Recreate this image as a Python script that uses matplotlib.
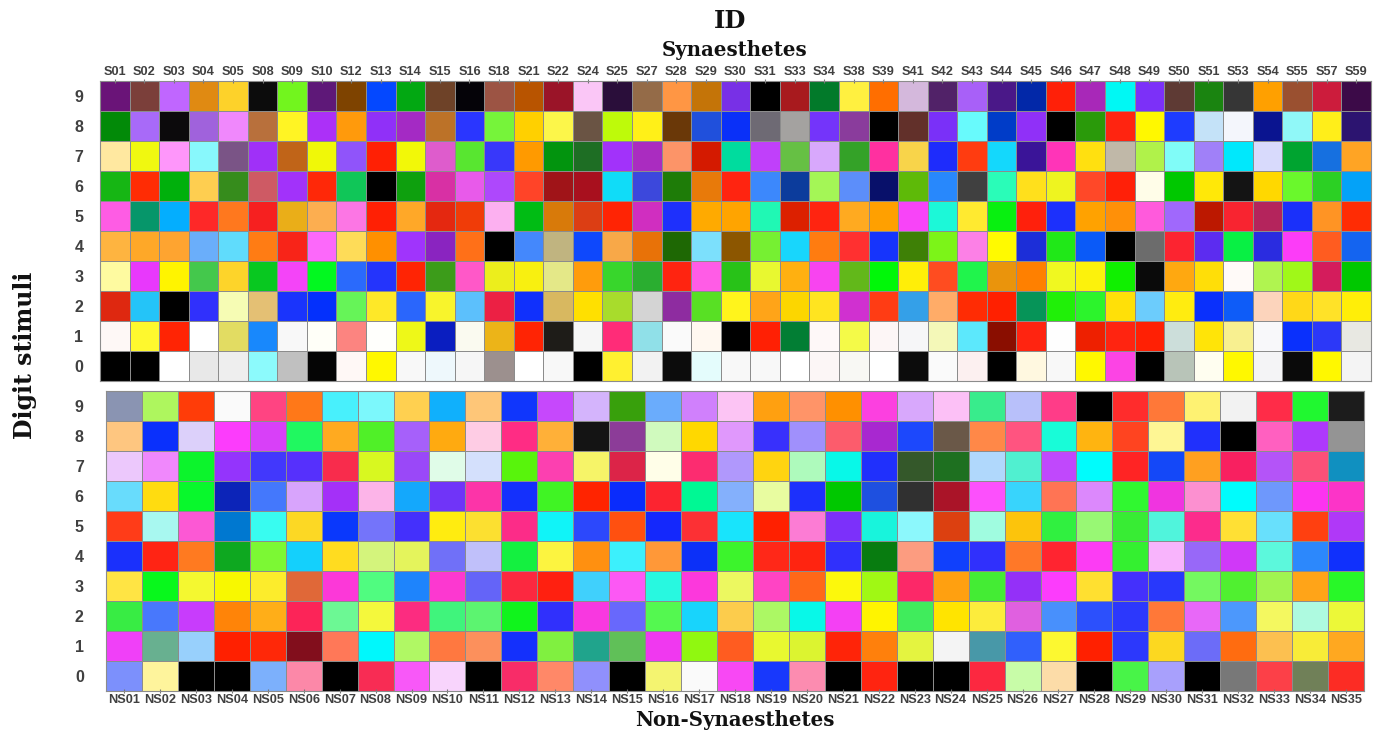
#!/usr/bin/env python3
"""Grapheme-colour associations for digits 0-9: synaesthetes vs non-synaesthetes."""

import matplotlib
matplotlib.use("Agg")
import matplotlib.pyplot as plt
import numpy as np
from matplotlib.colors import ListedColormap

digits = ["9", "8", "7", "6", "5", "4", "3", "2", "1", "0"]

syn_ids = ["S01", "S02", "S03", "S04", "S05", "S08", "S09", "S10", "S12", "S13",
           "S14", "S15", "S16", "S18", "S21", "S22", "S24", "S25", "S27", "S28",
           "S29", "S30", "S31", "S33", "S34", "S38", "S39", "S41", "S42", "S43",
           "S44", "S45", "S46", "S47", "S48", "S49", "S50", "S51", "S53", "S54",
           "S55", "S57", "S59"]

nonsyn_ids = [f"NS{i:02d}" for i in range(1, 36)]

# colour chosen by each synaesthete, one list per digit
syn_9 = ["#6A1478", "#7B3F3A", "#C066FF", "#E08A12", "#FDD22A", "#0C0C0C", "#72F51E", "#5E1878", "#7E4300", "#0448FF",
         "#02A812", "#6E4228", "#050308", "#9C5444", "#B85400", "#9A1428", "#FAC6F6", "#2A0E3A", "#946B48", "#FF9644",
         "#C47408", "#7830E6", "#000000", "#A81A1E", "#027A2A", "#FFF040", "#FF6E00", "#D4B8DC", "#512268", "#A860F8",
         "#4A1888", "#0228A8", "#FF2008", "#A828B8", "#00F8F4", "#7C30F8", "#5E3A34", "#1A8410", "#363636", "#FFA000",
         "#9A5030", "#CC1C3C", "#3C0A48"]
syn_8 = ["#028A08", "#A86AF8", "#0C0A0C", "#A062DC", "#F088FC", "#B8703C", "#FFF424", "#AC30F8", "#FF9A0C", "#9030F8",
         "#A42AC4", "#BC7228", "#2A36FF", "#76F43A", "#FFD000", "#FCF64A", "#6A5444", "#BEFA0A", "#FFF018", "#6A3808",
         "#2050DC", "#0A30F8", "#6E6A74", "#A4A2A0", "#7434FA", "#8A3C9C", "#000000", "#62302A", "#7A30F8", "#68FAFC",
         "#003CC8", "#9030F8", "#000000", "#2A9A0A", "#FF2410", "#FFF800", "#1E3CFF", "#C4E2F8", "#F4F6FC", "#0A1490",
         "#90F8F8", "#FFEE1A", "#2C1470"]
syn_7 = ["#FFE8A0", "#F0F810", "#FE96FA", "#88F8FC", "#7A5486", "#A030F8", "#C06418", "#F0F808", "#9054FA", "#FF2004",
         "#F2F808", "#DE5CCC", "#58E630", "#3838FA", "#FF9A00", "#02940E", "#1E6E24", "#A232FA", "#AA2CC0", "#FC9468",
         "#D41A00", "#00DC9E", "#C040FA", "#66C044", "#D8A8FC", "#34A228", "#FF30A0", "#F8D44A", "#1E2CFC", "#FF3C10",
         "#14D8FC", "#3A1498", "#FF34B8", "#FFE010", "#C0B8A8", "#B0F24A", "#80FCF8", "#A080F8", "#00E8FC", "#D8DAFC",
         "#00A430", "#1670E0", "#FFA424"]
syn_6 = ["#16B614", "#FF2C04", "#00B00C", "#FECE50", "#368C1C", "#CE5A64", "#A232FA", "#FF2808", "#10C658", "#000000",
         "#0EA00E", "#D830A4", "#E85AEA", "#AE48FC", "#FF4428", "#A01418", "#A8101E", "#10DCF8", "#3C48DC", "#1E7C08",
         "#E87A0A", "#FF2410", "#3C88FC", "#0C3C9C", "#A4F656", "#5C8EFA", "#08106A", "#5EBA08", "#2888FC", "#404040",
         "#2AFCB8", "#FFE01C", "#EEF420", "#FF4828", "#FF2008", "#FFFDE8", "#00C800", "#FFE808", "#141414", "#FFD800",
         "#6AF82C", "#2CD024", "#04A2F8"]
syn_5 = ["#FE5CE4", "#06966A", "#04AEFE", "#FE2828", "#FF781E", "#F62020", "#EAAE18", "#FCAE50", "#FC76E4", "#FF2004",
         "#FFA828", "#E42810", "#F03C08", "#FCB0F0", "#00BC14", "#D87A0A", "#DC3E14", "#FF2404", "#D02EC0", "#1E30FC",
         "#FFAA00", "#FFA400", "#20F8B4", "#DC2000", "#FF2410", "#FFAA20", "#FFA000", "#F844F8", "#1CF8D8", "#FFEA30",
         "#08F010", "#FF200C", "#1C30FC", "#FFA200", "#FF9008", "#FF5ADC", "#A068FC", "#BC1800", "#F82430", "#B4245C",
         "#1A30FA", "#FF9424", "#FF2C04"]
syn_4 = ["#FEB440", "#FEA828", "#FEA430", "#6AAEFA", "#60DCFC", "#FF7C14", "#F82418", "#FC68FA", "#FEDC58", "#FF9000",
         "#A034FC", "#8A24C0", "#FF7018", "#000000", "#4488FC", "#C0B480", "#0E48FC", "#F8A848", "#E87208", "#1E6804",
         "#7CE0FC", "#8C5600", "#76F032", "#18D6FC", "#FF7C10", "#FF3030", "#1634FC", "#3E8006", "#7CF418", "#FC80E6",
         "#FFFA00", "#1C2ED8", "#20E818", "#0A5AF8", "#000000", "#6C6C6C", "#FC2430", "#5C2CF0", "#08F044", "#2A2CE0",
         "#FC3CF8", "#FF5C20", "#1464F0"]
syn_3 = ["#FEFAA0", "#E838FC", "#FFF400", "#44C84C", "#FDD42A", "#08C820", "#F444F8", "#02F820", "#2A6AFC", "#2434FC",
         "#FF2404", "#3C9C1A", "#FF58C8", "#ECEE1C", "#F8F010", "#E4E888", "#FF9C0C", "#38D62C", "#2AAE30", "#FF2410",
         "#FF5CE6", "#28C218", "#E8F830", "#FFB010", "#F844F0", "#62B81A", "#00F808", "#FFEE08", "#FF4C20", "#20F44C",
         "#EA940C", "#FF8000", "#F0F820", "#FCF20C", "#10F000", "#0A0A0A", "#FFA810", "#FFDE08", "#FFFAF8", "#B0F450",
         "#A0F818", "#D41C5C", "#00C800"]
syn_2 = ["#DE2810", "#24C4F8", "#000000", "#3030FC", "#F6FCB4", "#E4C074", "#1A34FC", "#0430FC", "#66F458", "#FEE828",
         "#2A66FC", "#F8F42C", "#5CC0FC", "#EC2044", "#1030FC", "#D8B860", "#FFE000", "#A8DC2C", "#D4D4D4", "#8E2CA0",
         "#58E024", "#FFF41C", "#FFA418", "#FCD600", "#FFE420", "#D030D0", "#FF3C14", "#34A0E8", "#FFAC68", "#FF2C04",
         "#FF2000", "#069458", "#20F008", "#2CF42C", "#FFE008", "#6CCCFC", "#FFEC10", "#0A30FC", "#0E5CF8", "#FCD4BC",
         "#FFD818", "#FFE228", "#FFEE08"]
syn_1 = ["#FEF8F6", "#FEF82E", "#FF2404", "#FFFFFF", "#E2DC62", "#1888FC", "#F8F8F8", "#FFFFF8", "#FC8480", "#FFFFFC",
         "#EEF818", "#0A1EC0", "#FAFAF0", "#ECB418", "#FF2404", "#1E1C18", "#F6F6F6", "#FF2C78", "#90E0E8", "#FAFAFA",
         "#FFF8F0", "#000000", "#FF2004", "#027E34", "#FEF8F8", "#F4FA48", "#FDF6F6", "#F6F6F8", "#F4F8B8", "#5CE8FC",
         "#8A0E00", "#FF2410", "#FEFEFE", "#EE2000", "#FF2410", "#FF2004", "#CCDEDA", "#FFE408", "#F8F090", "#F8F8FA",
         "#0A30FC", "#2C38F8", "#E8E8E2"]
syn_0 = ["#000000", "#000000", "#FFFFFF", "#E8E8E8", "#EEEEEE", "#8CFAFC", "#C0C0C0", "#050505", "#FFF8F6", "#FFF800",
         "#F8F8F8", "#EEF8FC", "#F6F6F6", "#9C908E", "#FFFFFF", "#F8F8F8", "#000000", "#FFF030", "#F2F2F2", "#0C0C0C",
         "#E4FCFC", "#F8F8F8", "#F8F8F8", "#FFFFFF", "#FCF6F6", "#F8F8F4", "#FFFFFF", "#0C0C0C", "#FAFAFA", "#FCF0F0",
         "#000000", "#FFF8E0", "#F8F8F8", "#FFF800", "#FC44E4", "#000000", "#B8C4B8", "#FFFEF0", "#FFF800", "#F4F4F6",
         "#0A0A0A", "#FFF800", "#F4F4F4"]

# colour chosen by each non-synaesthete, one list per digit
ns_9 = ["#8A94B2", "#AEF65E", "#FF3C08", "#FAFAFA", "#FF4482", "#FF7818", "#48F0FC", "#7CF8FC", "#FFD050", "#10B0FC",
        "#FEC678", "#1036FC", "#C648FC", "#D4B4FC", "#38A00C", "#6AACFC", "#D080FC", "#FCC4F4", "#FFA010", "#FF9468",
        "#FF9000", "#FC40E0", "#D8A8FC", "#FCC0F6", "#38EC8C", "#B8C0FA", "#FF3C88", "#000000", "#FF2C2C", "#FF7838",
        "#FEF272", "#F2F2F2", "#FF2C48", "#20F830", "#1C1C1C"]
ns_8 = ["#FEC680", "#0A30FC", "#DCD0FA", "#FC3CFC", "#D840F8", "#20F860", "#FFAA20", "#50F028", "#A660FA", "#FFAA10",
        "#FECCE4", "#FF2C84", "#FFB038", "#141414", "#8C3C98", "#D0FABE", "#FFD800", "#E098FC", "#3830FC", "#A090FC",
        "#FC5C6C", "#A828D0", "#1C48FC", "#6A5848", "#FF8848", "#FF5480", "#18FCD8", "#FFB410", "#FF4420", "#FEF694",
        "#2030FC", "#000000", "#FF60C0", "#AE38FC", "#949494"]
ns_7 = ["#ECC8FC", "#F088FC", "#0CF42C", "#9434FC", "#4238FC", "#5630FC", "#F82C4C", "#D8F820", "#9A48F8", "#E0FCE8",
        "#D4E0FC", "#58F40C", "#FC40B0", "#F6F468", "#DC2448", "#FFFEE8", "#FC2C70", "#B098FC", "#FFD410", "#AEFABC",
        "#08F8E8", "#2030FC", "#34582A", "#1E7020", "#B0D8FC", "#50F0D0", "#C048FC", "#00FCFC", "#FF2424", "#1448F8",
        "#FFA020", "#F82060", "#B454F8", "#FC5078", "#1090C0"]
ns_6 = ["#68DCFC", "#FFDC10", "#08F82C", "#0C24B8", "#4478FC", "#D8A4FC", "#A430F8", "#FCB4E8", "#14A8FC", "#7034F8",
        "#FC34A8", "#1430FC", "#40F424", "#FF2400", "#0A2CFC", "#FC2430", "#00F894", "#84B0FC", "#E8FCA0", "#1C30FC",
        "#00C800", "#1E50E0", "#303030", "#AA1428", "#FC50FC", "#38D4FC", "#FF7454", "#DC88FC", "#30F830", "#F034E0",
        "#FC90D0", "#00FCFC", "#6E98FC", "#FC34F0", "#FC34C8"]
ns_5 = ["#FF3C18", "#A8F8F0", "#FC58D4", "#0078D0", "#38FCF0", "#FCD824", "#0A38FC", "#7474FA", "#4430FC", "#FFEC10",
        "#FCE030", "#FC2C88", "#10F4F8", "#2C48FC", "#FF5010", "#1428FC", "#FC3034", "#18E4FC", "#FF2000", "#FC7CD4",
        "#7C30FA", "#18F4DC", "#8CF8FC", "#DC4010", "#A0FCE0", "#FCC40C", "#30F040", "#98F874", "#38EC34", "#50F4DC",
        "#FC2C8C", "#FFE034", "#68E0FC", "#FF4010", "#B038F8"]
ns_4 = ["#1A30FC", "#FF2414", "#FF7A20", "#0EA820", "#7CF834", "#14D0FC", "#FFDC20", "#D4F47C", "#E4F45C", "#7070F8",
        "#C0C0FA", "#14F040", "#FCF440", "#FF9010", "#3CF0FC", "#FF9838", "#0C30F8", "#3CF42C", "#FF2818", "#FF2410",
        "#3030FC", "#087C10", "#FC9C80", "#1040FC", "#3030FC", "#FF7828", "#FF2430", "#FC3CF4", "#34F030", "#F8B4FC",
        "#9868F8", "#D038F8", "#5CF8DC", "#2C88FC", "#1030FC"]
ns_3 = ["#FFE444", "#08F81C", "#F4F830", "#F8F800", "#FCEC2C", "#E06838", "#FC38D8", "#50FC80", "#1E84FC", "#FC38D0",
        "#6464F8", "#FC2840", "#FF2010", "#40D0FC", "#FC58F4", "#28F8E0", "#FC38DC", "#ECF860", "#FF44C4", "#FF6818",
        "#FCF80C", "#A0F814", "#FC2868", "#FFA010", "#44EC34", "#9430F8", "#FC3CFC", "#FFE030", "#4430FC", "#2838FC",
        "#74F860", "#50F030", "#A0F450", "#FFA418", "#28F828"]
ns_2 = ["#38EC44", "#4878FC", "#C83CFC", "#FF8408", "#FFAE18", "#FC2458", "#6CF894", "#F4F83C", "#FC2C80", "#40F47C",
        "#5CF470", "#10F41C", "#3030FC", "#F838E0", "#6868FC", "#54F850", "#18D4FC", "#FCCC4C", "#ACF864", "#08F8E8",
        "#F440F4", "#FFF400", "#40EC5C", "#FFE400", "#FCEC3C", "#E060E0", "#4890FC", "#2C50FC", "#2C38FC", "#FF7838",
        "#E868F8", "#4C98FC", "#F4F860", "#AEFAE0", "#ECF838"]
ns_1 = ["#F040F8", "#68B090", "#98D0FC", "#FF2000", "#FF2808", "#820E1C", "#FF7858", "#00F8FC", "#B0F864", "#FF7840",
        "#FC905C", "#1430FC", "#80F040", "#20A48C", "#60C058", "#F038F0", "#90F810", "#FF5C20", "#E8F830", "#DCF430",
        "#FF2408", "#FF800C", "#E4F440", "#F4F4F4", "#4898A8", "#3060FC", "#FCF830", "#FF2000", "#2C38FC", "#FCD820",
        "#6C6CF8", "#FF6C10", "#FCC050", "#F8EC38", "#FFA820"]
ns_0 = ["#7C90FC", "#FEF49C", "#000000", "#000000", "#7CB0FC", "#FC88A8", "#000000", "#F82C54", "#F858F8", "#F8D4FC",
        "#000000", "#F82C68", "#FF8868", "#9090FC", "#000000", "#F4F470", "#FAFAFA", "#F848F4", "#1838FC", "#FC8CB0",
        "#000000", "#FF2410", "#000000", "#000000", "#FC2840", "#C8FCA8", "#FCDCA8", "#000000", "#48F448", "#A8A0FC",
        "#000000", "#787878", "#FC4048", "#708058", "#FC2C24"]

syn_rows = [syn_9, syn_8, syn_7, syn_6, syn_5, syn_4, syn_3, syn_2, syn_1, syn_0]
ns_rows = [ns_9, ns_8, ns_7, ns_6, ns_5, ns_4, ns_3, ns_2, ns_1, ns_0]

W, H = 1377, 732
LABEL_GRAY = "#404040"
EDGE_GRAY = "#8c8c8c"


def px_axes(fig, left, top, right, bottom):
    return fig.add_axes([left / W, 1 - bottom / H, (right - left) / W, (bottom - top) / H])


def colour_grid(ax, rows, ids, top_labels, ypad):
    n_rows, n_cols = len(rows), len(rows[0])
    flat = [c for row in rows[::-1] for c in row]
    idx = np.arange(len(flat)).reshape(n_rows, n_cols)
    ax.pcolormesh(idx, cmap=ListedColormap(flat), vmin=-0.5, vmax=len(flat) - 0.5,
                  edgecolors=EDGE_GRAY, linewidth=0.7)
    ax.set_xlim(0, n_cols)
    ax.set_ylim(0, n_rows)
    ax.set_xticks(np.arange(n_cols) + 0.5)
    ax.set_xticklabels(ids, fontsize=9.2, fontweight="bold", color=LABEL_GRAY,
                       family="Liberation Sans")
    ax.set_yticks(np.arange(n_rows) + 0.5)
    ax.set_yticklabels(digits[::-1], fontsize=11.5, fontweight="bold", color=LABEL_GRAY,
                       family="Liberation Sans")
    ax.tick_params(axis="y", length=0, pad=ypad)
    if top_labels:
        ax.xaxis.tick_top()
    ax.tick_params(axis="x", length=3, width=0.8, color="#777777", pad=1, direction="inout")
    for s in ax.spines.values():
        s.set_color(EDGE_GRAY)
        s.set_linewidth(0.8)


fig = plt.figure(figsize=(W / 100, H / 100), dpi=100)

ax_syn = px_axes(fig, 100, 81, 1371, 381)
colour_grid(ax_syn, syn_rows, syn_ids, top_labels=True, ypad=12)

ax_ns = px_axes(fig, 106, 391, 1364, 691)
colour_grid(ax_ns, ns_rows, nonsyn_ids, top_labels=False, ypad=16)

title_font = dict(family="DejaVu Serif", fontweight="bold", color="#111111")
fig.text(730 / W, 1 - 21 / H, "ID", fontsize=17.5, ha="center", va="center", **title_font)
fig.text(735 / W, 1 - 50 / H, "Synaesthetes", fontsize=14.2, ha="center", va="center", **title_font)
fig.text(735 / W, 1 - 720 / H, "Non-Synaesthetes", fontsize=14.2, ha="center", va="center", **title_font)
fig.text(25 / W, 1 - 355 / H, "Digit stimuli", fontsize=17, rotation=90,
         ha="center", va="center", **title_font)

fig.savefig("out.png", dpi=100)
